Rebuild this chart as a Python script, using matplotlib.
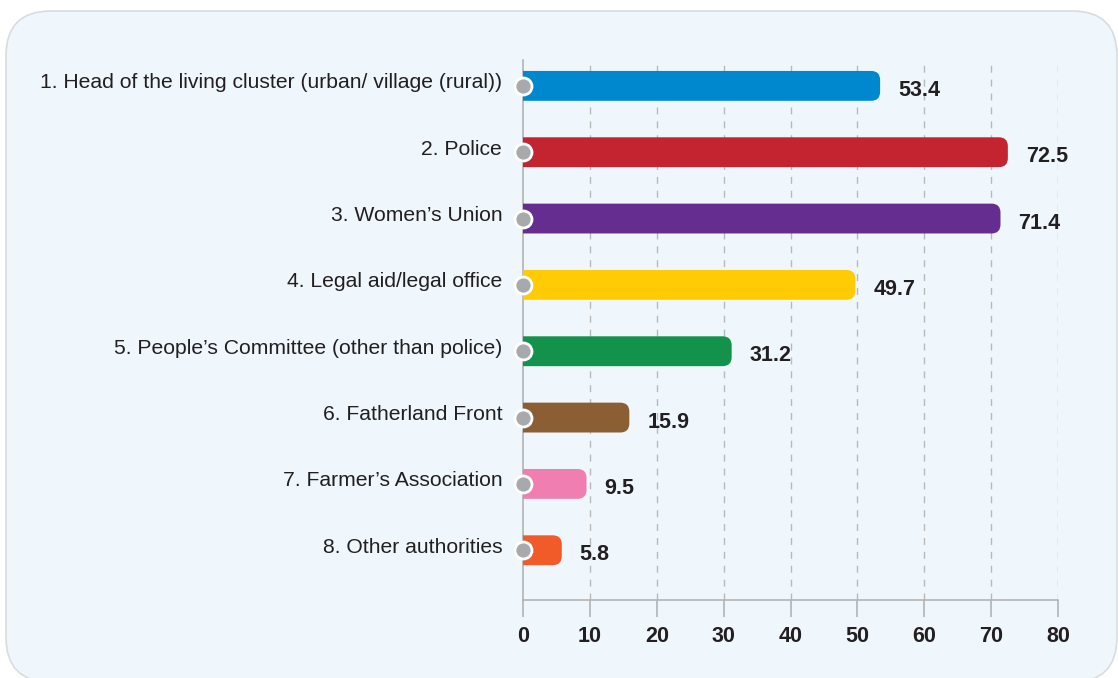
import matplotlib.pyplot as plt
from matplotlib.patches import FancyBboxPatch, PathPatch
from matplotlib.path import Path
from matplotlib.transforms import offset_copy, ScaledTranslation

plt.rcParams['font.family'] = ['Liberation Sans', 'DejaVu Sans']

categories = [
    "1. Head of the living cluster (urban/ village (rural))",
    "2. Police",
    "3. Women\u2019s Union",
    "4. Legal aid/legal office",
    "5. People\u2019s Committee (other than police)",
    "6. Fatherland Front",
    "7. Farmer\u2019s Association",
    "8. Other authorities",
]
values = [53.4, 72.5, 71.4, 49.7, 31.2, 15.9, 9.5, 5.8]
colors = ["#0088cf", "#c4242f", "#662d91", "#ffcb05",
          "#12924a", "#8b5e34", "#f07eb0", "#f15a29"]
xticks = [0, 10, 20, 30, 40, 50, 60, 70, 80]

W, H = 1118, 678
fig = plt.figure(figsize=(W / 100, H / 100), dpi=100)
fig.patch.set_facecolor("white")

# rounded light-blue panel behind everything
panel = FancyBboxPatch((6 / W, 1 - 682 / H), (1117 - 6) / W, (682 - 11) / H,
                       boxstyle="round,pad=0,rounding_size=0.04",
                       mutation_aspect=W / H,
                       transform=fig.transFigure, facecolor="#eff7fd",
                       edgecolor="#d9dcdf", linewidth=1.2, zorder=-5)
fig.add_artist(panel)

ax = fig.add_axes([523 / W, 1 - 600 / H, (1058 - 523) / W, (600 - 60) / H])
ax.set_zorder(2)
ax.set_facecolor("none")
ax.set_xlim(0, 80)
ax.set_ylim(7.75, -0.39)

bar_h = 0.45
px_x = (1058 - 523) / 80.0
px_y = (600 - 60) / (7.75 + 0.39)
rx = 9 / px_x
ry = 9 / px_y


def bar_path(v, yc):
    # square on the left, rounded corners on the right
    y0, y1 = yc - bar_h / 2, yc + bar_h / 2
    r = min(rx, v / 2)
    verts = [(0, y0), (v - r, y0), (v, y0), (v, y0 + ry),
             (v, y1 - ry), (v, y1), (v - r, y1), (0, y1), (0, y0)]
    codes = [Path.MOVETO, Path.LINETO, Path.CURVE3, Path.CURVE3,
             Path.LINETO, Path.CURVE3, Path.CURVE3, Path.LINETO,
             Path.CLOSEPOLY]
    return Path(verts, codes)


for i, (v, c) in enumerate(zip(values, colors)):
    ax.add_patch(PathPatch(bar_path(v, i), facecolor=c, edgecolor="none",
                           zorder=3))
    ax.text(v, i + 0.07, f"{v}", ha="left", va="center",
            fontsize=15.5, fontweight="bold", color="#231f20",
            transform=offset_copy(ax.transData, fig=fig, x=18, y=0, units="dots"),
            zorder=5)

ax.scatter([0] * len(values), range(len(values)), s=150, color="#a7a9ac",
           edgecolor="white", linewidth=2, zorder=6, clip_on=False)

ax.set_yticks(range(len(categories)))
ax.set_yticklabels(categories, fontsize=15.2, color="#231f20")
ax.tick_params(axis="y", length=0, pad=15)
# category names sit a little above the bar centre
lift = ScaledTranslation(0, 5 / 100, fig.dpi_scale_trans)
for lbl in ax.get_yticklabels():
    lbl.set_transform(lbl.get_transform() + lift)

ax.set_xticks(xticks)
ax.set_xticklabels([str(t) for t in xticks], fontsize=15.5,
                   fontweight="bold", color="#231f20")
ax.tick_params(axis="x", length=12, width=1.2, color="#b3b3b3", pad=7)

for t in xticks[1:]:
    ax.axvline(t, color="#b9b9b9", linewidth=1, linestyle=(0, (5, 5)), zorder=1)

for s in ["top", "right"]:
    ax.spines[s].set_visible(False)
for s in ["left", "bottom"]:
    ax.spines[s].set_color("#b3b3b3")
    ax.spines[s].set_linewidth(1.2)

fig.savefig("out.png", dpi=100)
